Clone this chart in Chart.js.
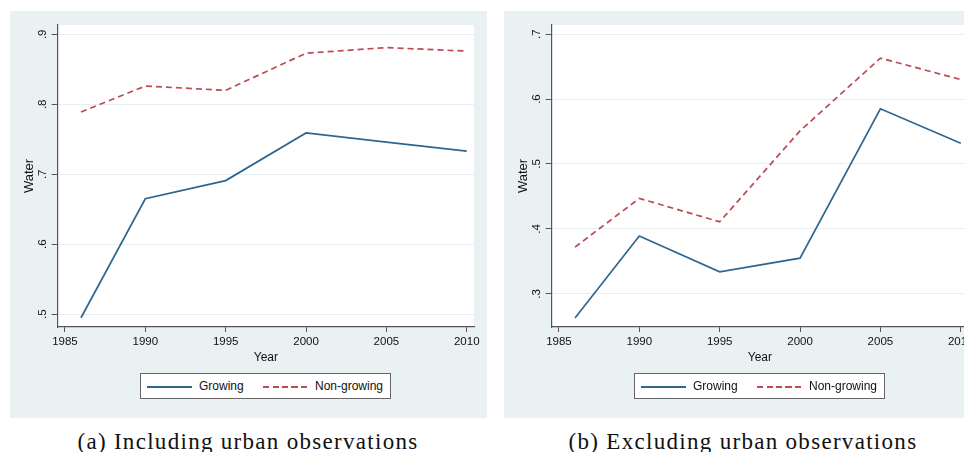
<!DOCTYPE html>
<html>
<head>
<meta charset="utf-8">
<script src="https://cdn.jsdelivr.net/npm/chart.js@4.4.1/dist/chart.umd.min.js"></script>
<style>
  html, body { margin: 0; padding: 0; background: #fff; width: 964px; height: 452px; overflow: hidden; position: relative; }
  canvas { position: absolute; top: 11px; }
  #chartA { left: 10px; }
  #chartB { left: 504px; }
  .legend { position: absolute; top: 373px; width: 249px; height: 24px; border: 1px solid #666; background: #fff;
            font: 12px "Liberation Sans", Arial, sans-serif; color: #111; }
  .legend .sample { position: absolute; top: 12px; width: 45px; height: 1.6px; }
  .legend .txt { position: absolute; top: 0; line-height: 25px; white-space: nowrap; }
  .caption { position: absolute; top: 430px; width: 480px; text-align: center; white-space: nowrap;
             font: 23px/23px "Liberation Serif", "Times New Roman", serif; letter-spacing: 1.3px; color: #111; }
</style>
</head>
<body>
<canvas id="chartA" width="477" height="407"></canvas>
<canvas id="chartB" width="477" height="407"></canvas>
<div class="legend" id="legendA" style="left:140px"></div>
<div class="legend" id="legendB" style="left:634px"></div>
<div class="caption" style="left:8px">(a) Including urban observations</div>
<div class="caption" style="left:503px">(b) Excluding urban observations</div>

<script>
// Survey years
const years = [1986, 1990, 1995, 2000, 2005, 2010];

// Share with water access, including urban observations
const growingInclUrban    = [0.495, 0.665, 0.691, 0.759, 0.746, 0.733];
const nonGrowingInclUrban = [0.789, 0.826, 0.820, 0.873, 0.881, 0.876];

// Share with water access, excluding urban observations
const growingExclUrban    = [0.263, 0.389, 0.334, 0.355, 0.585, 0.532];
const nonGrowingExclUrban = [0.372, 0.447, 0.411, 0.551, 0.663, 0.630];

// Axis ticks
const yearTicks = [1985, 1990, 1995, 2000, 2005, 2010];
const yTicksA = [0.5, 0.6, 0.7, 0.8, 0.9];
const yTicksB = [0.3, 0.4, 0.5, 0.6, 0.7];

const seriesLabels = ['Growing', 'Non-growing'];
const seriesColors = ['#2f6690', '#bc4b55'];

const PANEL_BG = '#e9f1f3';
const AXIS_COLOR = '#555';
const FONT = '"Liberation Sans", Arial, sans-serif';

const panelBackground = {
  id: 'panelBackground',
  beforeDraw(chart) {
    const { ctx, chartArea: a } = chart;
    ctx.save();
    ctx.fillStyle = PANEL_BG;
    ctx.fillRect(0, 0, chart.width, chart.height);
    ctx.fillStyle = '#fff';
    ctx.fillRect(a.left, a.top, a.right - a.left, a.bottom - a.top);
    ctx.restore();
  }
};

const fmtShare = v => String(v).replace(/^0/, '');

function makeChart(id, growing, nonGrowing, yTicks, yMin, yMax) {
  const pts = vals => years.map((x, i) => ({ x, y: vals[i] }));
  return new Chart(document.getElementById(id), {
    type: 'line',
    data: {
      datasets: [
        { label: seriesLabels[0], data: pts(growing), borderColor: seriesColors[0], borderWidth: 1.7,
          pointRadius: 0, tension: 0, fill: false },
        { label: seriesLabels[1], data: pts(nonGrowing), borderColor: seriesColors[1], borderWidth: 1.7,
          borderDash: [6, 4], pointRadius: 0, tension: 0, fill: false }
      ]
    },
    options: {
      responsive: false,
      animation: false,
      devicePixelRatio: 1,
      layout: { padding: { top: 14, right: 13, bottom: 53, left: 0 } },
      plugins: { legend: { display: false }, tooltip: { enabled: false } },
      scales: {
        x: {
          type: 'linear',
          min: 1984.55, max: 2010.45,
          afterBuildTicks: s => { s.ticks = yearTicks.map(v => ({ value: v })); },
          afterFit: s => { s.height = 38; s.paddingLeft = 0; s.paddingRight = 0; },
          grid: { drawOnChartArea: false, tickLength: 5, tickColor: AXIS_COLOR, tickWidth: 1 },
          border: { display: true, color: AXIS_COLOR, width: 1.2 },
          ticks: { color: '#111', font: { family: FONT, size: 11.5 }, padding: 3, maxRotation: 0,
                   callback: v => String(v) },
          title: { display: true, text: 'Year', color: '#111', font: { family: FONT, size: 12 },
                   padding: { top: 0, bottom: 0 } }
        },
        y: {
          type: 'linear',
          min: yMin, max: yMax,
          afterBuildTicks: s => { s.ticks = yTicks.map(v => ({ value: v })); },
          afterFit: s => { s.width = 47.7; s.paddingTop = 0; s.paddingBottom = 0; },
          grid: { color: '#e6eff2', lineWidth: 1, tickLength: 6, tickColor: AXIS_COLOR, tickWidth: 1 },
          border: { display: true, color: AXIS_COLOR, width: 1.2 },
          ticks: { color: '#111', font: { family: FONT, size: 11.5 }, padding: 4, minRotation: 90, maxRotation: 90,
                   crossAlign: 'center', callback: v => fmtShare(v) },
          title: { display: true, text: 'Water', color: '#111', font: { family: FONT, size: 13 },
                   padding: { top: 12, bottom: 0 } }
        }
      }
    },
    plugins: [panelBackground]
  });
}

function buildLegend(id, chart) {
  const box = document.getElementById(id);
  const slots = [{ line: 6, text: 58 }, { line: 122, text: 174 }];
  chart.data.datasets.forEach((ds, i) => {
    const s = document.createElement('div');
    s.className = 'sample';
    s.style.left = slots[i].line + 'px';
    s.style.background = ds.borderDash
      ? `repeating-linear-gradient(to right, ${ds.borderColor} 0 6px, transparent 6px 9.5px)`
      : ds.borderColor;
    box.appendChild(s);
    const t = document.createElement('div');
    t.className = 'txt';
    t.style.left = slots[i].text + 'px';
    t.textContent = ds.label;
    box.appendChild(t);
  });
}

const chartA = makeChart('chartA', growingInclUrban, nonGrowingInclUrban, yTicksA, 0.4818, 0.9133);
const chartB = makeChart('chartB', growingExclUrban, nonGrowingExclUrban, yTicksB, 0.249, 0.714);
buildLegend('legendA', chartA);
buildLegend('legendB', chartB);
</script>
</body>
</html>
